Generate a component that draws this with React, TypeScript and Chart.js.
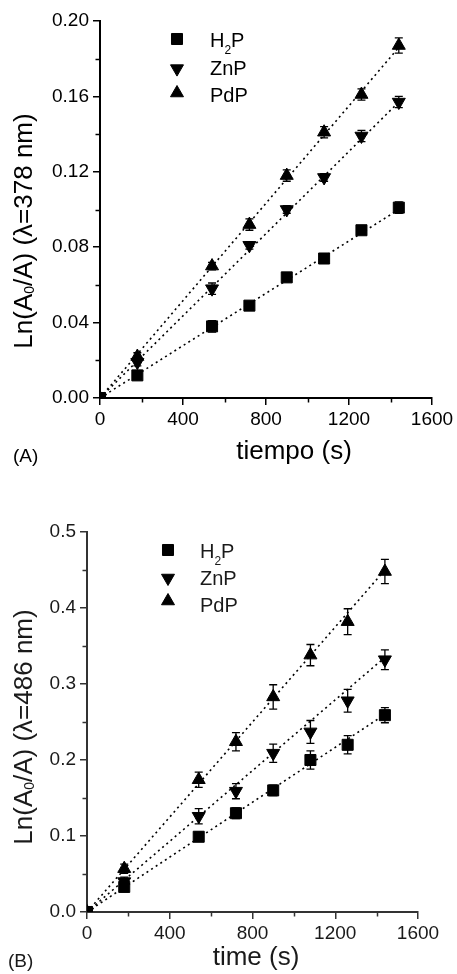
import React, { useEffect, useRef } from "react";
import { Chart, registerables } from "chart.js";

Chart.register(...registerables);

// ---------- DATA ----------
const times = [0, 180, 540, 720, 900, 1080, 1260, 1440];
const fitTimes = [0, 1440];
const xTickValues = [0, 400, 800, 1200, 1600];

// Panel A (λ = 378 nm)
const h2pA = [0, 0.012, 0.038, 0.049, 0.064, 0.074, 0.089, 0.101];
const h2pAErr = [0, 0.001, 0.003, 0.001, 0.002, 0.001, 0.002, 0.003];
const znpA = [0, 0.019, 0.058, 0.081, 0.1, 0.117, 0.139, 0.157];
const znpAErr = [0, 0.002, 0.003, 0.002, 0.002, 0.002, 0.003, 0.003];
const pdpA = [0, 0.022, 0.07, 0.092, 0.118, 0.141, 0.161, 0.187];
const pdpAErr = [0, 0.002, 0.002, 0.003, 0.003, 0.003, 0.003, 0.004];
const h2pAFit = [0, 0.1];
const znpAFit = [0, 0.157];
const pdpAFit = [0, 0.186];
const yTicksA = [0, 0.04, 0.08, 0.12, 0.16, 0.2];

// Panel B (λ = 486 nm)
const h2pB = [0, 0.033, 0.099, 0.13, 0.16, 0.2, 0.22, 0.259];
const h2pBErr = [0, 0.006, 0.006, 0.007, 0.007, 0.012, 0.012, 0.01];
const znpB = [0, 0.04, 0.126, 0.159, 0.209, 0.237, 0.278, 0.332];
const znpBErr = [0, 0.006, 0.01, 0.01, 0.012, 0.015, 0.015, 0.013];
const pdpB = [0, 0.057, 0.174, 0.224, 0.283, 0.338, 0.382, 0.448];
const pdpBErr = [0, 0.006, 0.01, 0.012, 0.016, 0.014, 0.017, 0.016];
const h2pBFit = [0, 0.26];
const znpBFit = [0, 0.335];
const pdpBFit = [0, 0.45];
const yTicksB = [0, 0.1, 0.2, 0.3, 0.4, 0.5];

const seriesLabels = [
  [{ t: "H" }, { t: "2", sub: true }, { t: "P" }],
  [{ t: "ZnP" }],
  [{ t: "PdP" }],
];

const FONT = '"Liberation Sans", Arial, Helvetica, sans-serif';

type Part = { t: string; sub?: boolean };

function richWidth(ctx: CanvasRenderingContext2D, parts: Part[], size: number, subSize: number) {
  let w = 0;
  for (const p of parts) {
    ctx.font = `${p.sub ? subSize : size}px ${FONT}`;
    w += ctx.measureText(p.t).width;
  }
  return w;
}

function drawRich(
  ctx: CanvasRenderingContext2D,
  parts: Part[],
  x: number,
  y: number,
  size: number,
  subSize: number,
  subOffset: number,
  align: "left" | "center"
) {
  let cx = x;
  if (align === "center") cx = x - richWidth(ctx, parts, size, subSize) / 2;
  ctx.textAlign = "left";
  ctx.textBaseline = "alphabetic";
  for (const p of parts) {
    ctx.font = `${p.sub ? subSize : size}px ${FONT}`;
    ctx.fillText(p.t, cx, y + (p.sub ? subOffset : 0));
    cx += ctx.measureText(p.t).width;
  }
}

type Style = "rect" | "down" | "up";

function drawMarker(ctx: CanvasRenderingContext2D, style: Style, x: number, y: number) {
  ctx.beginPath();
  if (style === "rect") {
    const s = Math.SQRT1_2 * 7.8;
    ctx.rect(x - s, y - s, 2 * s, 2 * s);
  } else {
    const r = 7.5;
    let rad = style === "up" ? 0 : Math.PI;
    ctx.moveTo(x + Math.sin(rad) * r, y - Math.cos(rad) * r);
    rad += (2 * Math.PI) / 3;
    ctx.lineTo(x + Math.sin(rad) * r, y - Math.cos(rad) * r);
    rad += (2 * Math.PI) / 3;
    ctx.lineTo(x + Math.sin(rad) * r, y - Math.cos(rad) * r);
    ctx.closePath();
  }
  ctx.fill();
  ctx.stroke();
}

type Panel = {
  height: number;
  left: number;
  right: number;
  top: number;
  bottom: number;
  yTicks: number[];
  decimals: number;
  series: { values: number[]; errors: number[]; fit: number[]; style: Style }[];
  yTitle: Part[];
  xTitle: string;
  label: string;
  yTitleX: number;
  yTitleY: number;
  xTitleX: number;
  xTitleY: number;
  labelX: number;
  labelY: number;
  legendMarkerX: number;
  legendTextX: number;
  legendMarkerY: number[];
  legendBaseline: number[];
  textColor: string;
  axisColor: string;
};

const panelA: Panel = {
  height: 487,
  left: 100,
  right: 432,
  top: 21,
  bottom: 398,
  yTicks: yTicksA,
  decimals: 2,
  series: [
    { values: h2pA, errors: h2pAErr, fit: h2pAFit, style: "rect" },
    { values: znpA, errors: znpAErr, fit: znpAFit, style: "down" },
    { values: pdpA, errors: pdpAErr, fit: pdpAFit, style: "up" },
  ],
  yTitle: [{ t: "Ln(A" }, { t: "0", sub: true }, { t: "/A) (λ=378 nm)" }],
  xTitle: "tiempo (s)",
  label: "(A)",
  yTitleX: 32,
  yTitleY: 231,
  xTitleX: 294,
  xTitleY: 459,
  labelX: 13,
  labelY: 462,
  legendMarkerX: 177,
  legendTextX: 210,
  legendMarkerY: [39, 68.6, 93],
  legendBaseline: [47, 75, 102],
  textColor: "#000",
  axisColor: "#000",
};

const panelB: Panel = {
  height: 487,
  left: 87,
  right: 418,
  top: 45,
  bottom: 425,
  yTicks: yTicksB,
  decimals: 1,
  series: [
    { values: h2pB, errors: h2pBErr, fit: h2pBFit, style: "rect" },
    { values: znpB, errors: znpBErr, fit: znpBFit, style: "down" },
    { values: pdpB, errors: pdpBErr, fit: pdpBFit, style: "up" },
  ],
  yTitle: [{ t: "Ln(A" }, { t: "0", sub: true }, { t: "/A) (λ=486 nm)" }],
  xTitle: "time (s)",
  label: "(B)",
  yTitleX: 32,
  yTitleY: 240,
  xTitleX: 256,
  xTitleY: 478,
  labelX: 8,
  labelY: 480,
  legendMarkerX: 168,
  legendTextX: 200,
  legendMarkerY: [63, 91, 114],
  legendBaseline: [71, 98, 125],
  textColor: "#1a1a1a",
  axisColor: "#333",
};

function PanelChart({ p }: { p: Panel }) {
  const ref = useRef<HTMLCanvasElement | null>(null);
  useEffect(() => {
    if (!ref.current) return;
    const yMax = p.yTicks[p.yTicks.length - 1];
    const styles: Record<Style, { pointStyle: any; rotation: number; radius: number }> = {
      rect: { pointStyle: "rect", rotation: 0, radius: 7.8 },
      down: { pointStyle: "triangle", rotation: 180, radius: 7.5 },
      up: { pointStyle: "triangle", rotation: 0, radius: 7.5 },
    };
    const scatterSets = p.series.map((s) => ({
      type: "scatter" as const,
      data: times.map((t, i) => ({ x: t, y: s.values[i] })),
      pointStyle: styles[s.style].pointStyle,
      rotation: styles[s.style].rotation,
      pointRadius: styles[s.style].radius,
      pointHoverRadius: styles[s.style].radius,
      backgroundColor: "#000",
      borderColor: "#000",
      borderWidth: 1,
      showLine: false,
    }));
    const fitSets = p.series.map((s) => ({
      type: "line" as const,
      data: fitTimes.map((t, i) => ({ x: t, y: s.fit[i] })),
      borderColor: "#000",
      borderWidth: 1.6,
      borderDash: [2, 3.5],
      pointRadius: 0,
      fill: false,
      tension: 0,
    }));

    const decor = {
      id: "decor",
      beforeDatasetsDraw(chart: any) {
        const ctx: CanvasRenderingContext2D = chart.ctx;
        const xs = chart.scales.x;
        const ys = chart.scales.y;
        ctx.save();
        ctx.strokeStyle = "#000";
        ctx.lineWidth = 1.3;
        p.series.forEach((s) => {
          times.forEach((t, i) => {
            const e = s.errors[i];
            if (!e) return;
            const px = xs.getPixelForValue(t);
            const y1 = ys.getPixelForValue(s.values[i] + e);
            const y2 = ys.getPixelForValue(s.values[i] - e);
            ctx.beginPath();
            ctx.moveTo(px, y1);
            ctx.lineTo(px, y2);
            ctx.moveTo(px - 4, y1);
            ctx.lineTo(px + 4, y1);
            ctx.moveTo(px - 4, y2);
            ctx.lineTo(px + 4, y2);
            ctx.stroke();
          });
        });
        ctx.restore();
      },
      afterDraw(chart: any) {
        const ctx: CanvasRenderingContext2D = chart.ctx;
        const xs = chart.scales.x;
        const ys = chart.scales.y;
        const area = chart.chartArea;
        ctx.save();
        // minor ticks
        ctx.strokeStyle = p.axisColor;
        ctx.lineWidth = 1.5;
        for (let i = 0; i < xTickValues.length - 1; i++) {
          const v = (xTickValues[i] + xTickValues[i + 1]) / 2;
          const px = Math.round(xs.getPixelForValue(v)) + 0.5;
          ctx.beginPath();
          ctx.moveTo(px, area.bottom);
          ctx.lineTo(px, area.bottom + 4.5);
          ctx.stroke();
        }
        for (let i = 0; i < p.yTicks.length - 1; i++) {
          const v = (p.yTicks[i] + p.yTicks[i + 1]) / 2;
          const py = Math.round(ys.getPixelForValue(v)) + 0.5;
          ctx.beginPath();
          ctx.moveTo(area.left, py);
          ctx.lineTo(area.left - 4.5, py);
          ctx.stroke();
        }
        // text
        ctx.fillStyle = p.textColor;
        ctx.font = `26px ${FONT}`;
        ctx.textAlign = "center";
        ctx.textBaseline = "alphabetic";
        ctx.fillText(p.xTitle, p.xTitleX, p.xTitleY);
        ctx.font = `19px ${FONT}`;
        ctx.textAlign = "left";
        ctx.fillText(p.label, p.labelX, p.labelY);
        ctx.save();
        ctx.translate(p.yTitleX, p.yTitleY);
        ctx.rotate(-Math.PI / 2);
        drawRich(ctx, p.yTitle, 0, 0, 26, 14, 2, "center");
        ctx.restore();
        // legend
        ctx.fillStyle = "#000";
        ctx.strokeStyle = "#000";
        ctx.lineWidth = 1;
        p.series.forEach((s, i) => {
          drawMarker(ctx, s.style, p.legendMarkerX, p.legendMarkerY[i]);
        });
        ctx.fillStyle = p.textColor;
        seriesLabels.forEach((parts, i) => {
          drawRich(ctx, parts as Part[], p.legendTextX, p.legendBaseline[i], 20, 12, 7, "left");
        });
        ctx.restore();
      },
    };

    const chart = new Chart(ref.current, {
      type: "scatter",
      data: { datasets: [...scatterSets, ...fitSets] as any },
      options: {
        animation: false,
        responsive: false,
        devicePixelRatio: 1,
        events: [],
        layout: { padding: { left: 0, top: p.top, right: 457 - p.right, bottom: 0 } },
        plugins: { legend: { display: false }, tooltip: { enabled: false } },
        scales: {
          x: {
            type: "linear",
            min: 0,
            max: 1600,
            afterBuildTicks: (s: any) => {
              s.ticks = xTickValues.map((v) => ({ value: v }));
            },
            afterFit: (s: any) => {
              s.height = p.height - p.bottom;
            },
            ticks: {
              color: p.textColor,
              font: { family: FONT, size: 19 },
              padding: 3,
              maxRotation: 0,
              autoSkip: false,
              callback: (v: any) => String(v),
            },
            grid: {
              display: true,
              drawOnChartArea: false,
              drawTicks: true,
              tickLength: 7,
              color: p.axisColor,
              lineWidth: 1.5,
            },
            border: { display: true, color: p.axisColor, width: 2 },
          },
          y: {
            type: "linear",
            min: 0,
            max: yMax,
            afterBuildTicks: (s: any) => {
              s.ticks = p.yTicks.map((v) => ({ value: v }));
            },
            afterFit: (s: any) => {
              s.width = p.left;
            },
            ticks: {
              color: p.textColor,
              font: { family: FONT, size: 19 },
              padding: 4,
              autoSkip: false,
              callback: (v: any) => Number(v).toFixed(p.decimals),
            },
            grid: {
              display: true,
              drawOnChartArea: false,
              drawTicks: true,
              tickLength: 7,
              color: p.axisColor,
              lineWidth: 1.5,
            },
            border: { display: true, color: p.axisColor, width: 2 },
          },
        },
      } as any,
      plugins: [decor],
    });
    return () => chart.destroy();
  }, [p]);
  return <canvas ref={ref} width={457} height={p.height} style={{ display: "block", width: 457, height: p.height }} />;
}

export default function App() {
  return (
    <div style={{ position: "absolute", left: 0, top: 0, width: 457, height: 974, background: "#fff" }}>
      <PanelChart p={panelA} />
      <PanelChart p={panelB} />
    </div>
  );
}
